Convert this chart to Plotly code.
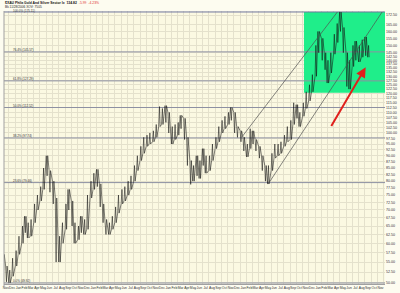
import math
import pandas as pd
import plotly.graph_objects as go

# ---------------- data ----------------
# semi-monthly bars (1st and 15th of each month), Nov 2001 .. Sep 2006
bar_months = pd.date_range("2001-11-01", "2006-09-01", freq="MS")
highs = [
    57, 54, 53, 56, 58, 62, 65, 68, 66, 67, 72, 75, 78, 85, 90, 84, 80, 74, 62, 66,
    72, 77, 73, 66, 65, 68, 67, 75, 80, 83, 84.5, 79, 72, 67, 66, 68, 71, 75, 77, 78,
    80, 82, 86, 90, 94, 98, 99, 100, 101, 104, 113, 112, 113.5, 110, 103, 104, 105, 108.5, 107, 98,
    88, 86, 90, 88, 93, 90, 90, 95, 98, 103, 106, 108, 110, 112.5, 110, 103, 101, 98, 95, 102,
    101, 97, 94, 90, 86, 86, 91, 95, 95, 96, 99, 103, 106, 115, 114, 110, 115, 121, 125, 131,
    150, 160, 155, 145, 140, 145, 158, 166, 175, 163, 145, 140, 150, 153, 150, 154, 156, 150,
]
lows = [
    53, 50.2, 50, 51.5, 54, 57, 60, 63, 61.5, 62, 66, 70, 73, 77, 82, 76, 72, 55, 55, 60,
    64, 70, 65, 60, 61, 63, 62.5, 64, 74, 77, 78, 71, 66, 62.5, 62.5, 64, 66, 69, 72, 73,
    75, 77, 80, 84, 88, 91, 94, 95, 96, 98, 103, 104, 105, 100, 95, 97, 99, 102, 97, 86,
    78.8, 80, 82, 81, 86, 83, 84, 88, 93, 96, 100, 102, 104, 106, 100, 98, 96, 92, 89.5, 93,
    95, 92, 89, 84, 80, 79, 84, 89, 90, 91, 94, 96, 97, 104, 107, 103, 108, 112, 116, 121,
    130, 145, 140, 134, 126, 132, 144, 152, 160, 145, 124, 122.5, 136, 140, 139, 142, 143, 142,
]

# Fibonacci retracement
fib_low = 49.92
fib_high = 175.11
fib_ratios = [0.0, 0.236, 0.382, 0.5, 0.618, 0.764, 1.0]

# channel lines (start/end date, start/end price)
channel_upper_x = ["2005-01-09", "2006-04-20"]
channel_upper_y = [98.1, 175.1]
channel_lower_x = ["2005-05-17", "2006-11-24"]
channel_lower_y = [78.9, 175.1]

# highlighted zone
zone_x = ["2005-11-08", "2006-12-08"]
zone_y = [120.5, 175.11]

# red arrow: tail -> head
arrow_x = ["2006-03-17", "2006-09-05"]
arrow_y = [102.6, 135.5]

x_start, x_end = "2001-11-07", "2006-12-08"
y_min, y_max = 49.69, 175.9

tick_vals = [50 + 2.5 * i for i in range(39)] + [150, 155, 160, 165, 172.5]

title_main = "$XAU Phila Gold And Silver Sector Ix  134.82"
title_change = "-5.99  -4.23%"
subtitle = "Bk 11/28/2006 XOV: 7505"

FONT = "Liberation Sans"

# ---------------- build ----------------
bar_dates = []
for m in bar_months:
    bar_dates.append(m)
    bar_dates.append(m + pd.Timedelta(days=14))

px, py = [], []
n = len(highs)
for i in range(n):
    d = bar_dates[i]
    mid = (highs[i] + lows[i]) / 2
    nxt = (highs[i + 1] + lows[i + 1]) / 2 if i + 1 < n else mid
    a, b = (lows[i], highs[i]) if nxt >= mid else (highs[i], lows[i])
    px += [d, d + pd.Timedelta(days=4), d + pd.Timedelta(days=7)]
    py += [a, b, a]

fig = go.Figure()

# green zone
fig.add_trace(go.Scatter(
    x=[zone_x[0], zone_x[1], zone_x[1], zone_x[0], zone_x[0]],
    y=[zone_y[0], zone_y[0], zone_y[1], zone_y[1], zone_y[0]],
    fill="toself", fillcolor="#1FEE8A", mode="none", hoverinfo="skip", showlegend=False))

# fib lines
fib_levels = [fib_low + r * (fib_high - fib_low) for r in fib_ratios]
for r, lv in zip(fib_ratios, fib_levels):
    fig.add_trace(go.Scatter(
        x=[x_start, x_end], y=[lv, lv], mode="lines",
        line=dict(color="#6F76A0" if r == 1.0 else "#8D90A2", width=1),
        hoverinfo="skip", showlegend=False))

# price
fig.add_trace(go.Scatter(x=px, y=py, mode="lines",
                         line=dict(color="#111111", width=0.55),
                         hoverinfo="skip", showlegend=False))

# channel lines
for cx, cy in [(channel_upper_x, channel_upper_y), (channel_lower_x, channel_lower_y)]:
    fig.add_trace(go.Scatter(x=cx, y=cy, mode="lines",
                             line=dict(color="#505050", width=0.7),
                             hoverinfo="skip", showlegend=False))

annotations = []
for r, lv in zip(fib_ratios, fib_levels):
    annotations.append(dict(
        x=0.018, xref="paper", y=math.log10(lv), yref="y",
        text=f"{r * 100:.1f}% ({lv:.2f})", showarrow=False,
        xanchor="left", yanchor="middle", yshift=2 if r < 1 else 1,
        font=dict(size=3.0, color="#333333", family=FONT)))

annotations.append(dict(
    x=arrow_x[1], y=math.log10(arrow_y[1]), xref="x", yref="y",
    ax=arrow_x[0], ay=math.log10(arrow_y[0]), axref="x", ayref="y",
    showarrow=True, arrowhead=2, arrowsize=1, arrowwidth=2, arrowcolor="#E0201C", text=""))

annotations.append(dict(
    x=0, xref="paper", y=1.029, yref="paper", xanchor="left", yanchor="middle",
    text=f"<b>{title_main}</b>  <span style='color:#E03030'>{title_change}</span>",
    showarrow=False, xshift=-1,
    font=dict(size=3.4, color="#111111", family=FONT)))
annotations.append(dict(
    x=0, xref="paper", y=1.0145, yref="paper", xanchor="left", yanchor="middle",
    text=subtitle, showarrow=False, xshift=-1,
    font=dict(size=3.2, color="#222222", family=FONT)))

fig.update_layout(
    width=400, height=293,
    margin=dict(l=3, r=12, t=11, b=9),
    paper_bgcolor="#FDFCF0", plot_bgcolor="#FBF9E2",
    annotations=annotations,
    showlegend=False,
    xaxis=dict(
        type="date", range=[x_start, x_end], dtick="M1", tickformat="%b",
        ticklabelmode="period", tickangle=0, showgrid=True, gridcolor="#E4E1CC", gridwidth=1,
        ticks="", tickfont=dict(size=3.4, color="#333333", family=FONT),
        showline=True, linecolor="#A0A0A0", linewidth=1, zeroline=False),
    yaxis=dict(
        type="log", range=[math.log10(y_min), math.log10(y_max)], side="right",
        tickvals=tick_vals, ticktext=[f"{v:.2f}" for v in tick_vals],
        showgrid=True, gridcolor="#E4E1CC", gridwidth=1, ticks="",
        tickfont=dict(size=3.6, color="#333333", family=FONT),
        showline=False, zeroline=False),
)

fig.add_shape(type="line", xref="paper", yref="paper", x0=0, x1=0, y0=-0.01, y1=1.0,
              line=dict(color="#A0A0A0", width=1))

fig.write_html("out.html")
